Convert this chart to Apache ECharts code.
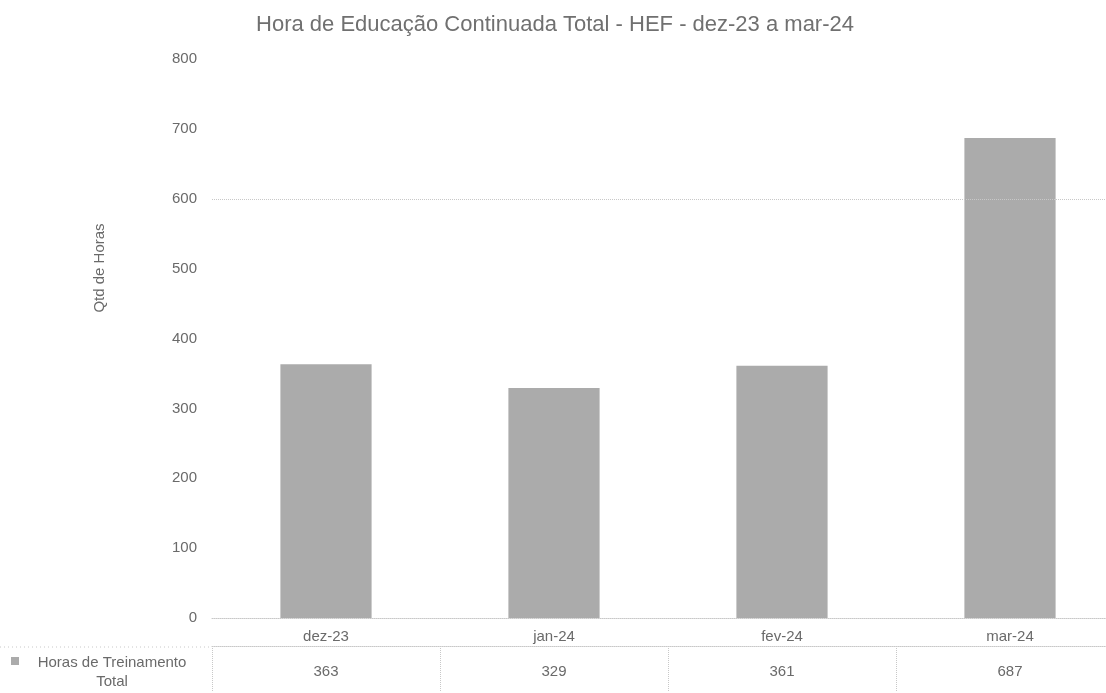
<!DOCTYPE html>
<html>
<head>
<meta charset="utf-8">
<script src="https://cdn.jsdelivr.net/npm/echarts@6/dist/echarts.min.js"></script>
<style>
	html, body { margin: 0; padding: 0; background: #fff; overflow: hidden; }
	/* the original plot runs a little past the right edge of the picture */
	#chart { width: 1124px; height: 693px; }
</style>
</head>
<body>
<div id="chart"></div>
<script>
const months = ['dez-23', 'jan-24', 'fev-24', 'mar-24'];
const hours = [363, 329, 361, 687];
const seriesName = 'Horas de Treinamento Total';
const titleText = 'Hora de Educação Continuada Total - HEF - dez-23 a mar-24';
const axisTitle = 'Qtd de Horas';

const font = '"Liberation Sans", Arial, sans-serif';
const textGrey = '#6a6a6a';
const lineGrey = '#c8c8c8';
const barGrey = '#ababab';

const chart = echarts.init(document.getElementById('chart'), null, {renderer: 'canvas'});

chart.setOption({
	animation: false,
	backgroundColor: '#fff',
	textStyle: { fontFamily: font },
	title: {
		text: titleText,
		left: 550,
		top: 9,
		textAlign: 'center',
		textStyle: { fontFamily: font, fontSize: 22, fontWeight: 'normal', color: '#707070' }
	},
	grid: { left: 212, top: 59, right: 0, bottom: 75 },
	xAxis: [
		{
			type: 'category',
			data: months,
			axisLine: { show: true, lineStyle: { color: lineGrey, type: 'dotted' } },
			axisTick: { show: false },
			axisLabel: { color: textGrey, fontSize: 15, margin: 11 }
		},
		{
			// data table row with the values
			type: 'category',
			position: 'bottom',
			offset: 28,
			data: hours.map(String),
			axisLine: { show: true, lineStyle: { color: lineGrey, type: 'dotted' } },
			axisTick: { show: true, length: 46, lineStyle: { color: lineGrey, type: 'dotted' } },
			axisLabel: { color: textGrey, fontSize: 15, margin: 18 }
		}
	],
	yAxis: {
		type: 'value',
		min: 0,
		max: 800,
		interval: 100,
		axisLine: { show: false },
		axisTick: { show: false },
		splitLine: { show: false },
		axisLabel: { color: textGrey, fontSize: 15, margin: 15 }
	},
	series: [{
		name: seriesName,
		type: 'bar',
		data: hours,
		barWidth: '40%',
		itemStyle: { color: barGrey },
		markLine: {
			silent: true,
			symbol: 'none',
			label: { show: false },
			lineStyle: { color: lineGrey, type: 'dotted', width: 1 },
			data: [{ yAxis: 600 }]
		}
	}],
	graphic: [
		{
			type: 'text',
			x: 100,
			y: 268,
			rotation: Math.PI / 2,
			style: {
				text: axisTitle,
				fill: textGrey,
				font: '15px ' + font,
				align: 'center',
				verticalAlign: 'middle'
			}
		},
		{
			type: 'rect',
			shape: { x: 11, y: 657, width: 8, height: 8 },
			style: { fill: barGrey }
		},
		{
			type: 'text',
			x: 112,
			y: 653,
			style: {
				text: 'Horas de Treinamento\nTotal',
				fill: textGrey,
				font: '15px ' + font,
				align: 'center',
				lineHeight: 19
			}
		},
		{
			type: 'line',
			shape: { x1: 0, y1: 647, x2: 212, y2: 647 },
			style: { stroke: lineGrey, lineDash: [1, 3] }
		}
	]
});
</script>
</body>
</html>
